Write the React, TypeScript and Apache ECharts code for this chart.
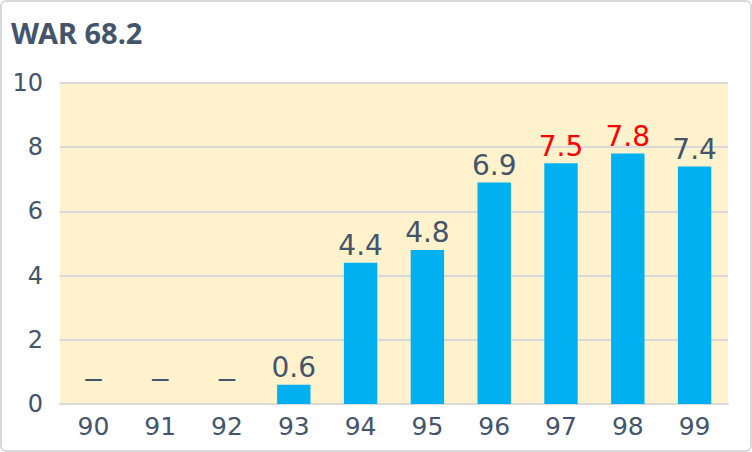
import React, { useEffect, useRef } from "react";
import * as echarts from "echarts";

const title = "WAR 68.2";
const categories = ["90", "91", "92", "93", "94", "95", "96", "97", "98", "99"];
const values = [0, 0, 0, 0.6, 4.4, 4.8, 6.9, 7.5, 7.8, 7.4];
const highlighted = ["97", "98"];
const yTicks = { min: 0, max: 10, interval: 2 };

const TEXT = "#44546A";
const TITLE_FONT = "'Noto Sans', 'Noto Sans CJK JP', sans-serif";
const FONT = "'DejaVu Sans', 'Noto Sans', sans-serif";

export default function App() {
  const ref = useRef<HTMLDivElement>(null);
  useEffect(() => {
    if (!ref.current) return;
    const chart = echarts.init(ref.current, undefined, { renderer: "svg" });
    chart.setOption({
      animation: false,
      title: {
        text: title,
        left: 4,
        top: 11,
        textStyle: { fontFamily: TITLE_FONT, fontSize: 29, fontWeight: "bold", color: TEXT },
      },
      grid: { left: 58, right: 22, top: 81, bottom: 46, containLabel: false,
        show: true, backgroundColor: "#FFF2CC", borderWidth: 0 },
      xAxis: {
        type: "category",
        data: categories,
        axisLine: { show: true, lineStyle: { color: "#D9D9D9", width: 2 } },
        axisTick: { show: false },
        axisLabel: { color: TEXT, fontSize: 25, fontFamily: FONT, margin: 10 },
      },
      yAxis: {
        type: "value",
        min: yTicks.min,
        max: yTicks.max,
        interval: yTicks.interval,
        axisLine: { show: false },
        axisTick: { show: false },
        splitLine: { lineStyle: { color: "#D9D9D9", width: 2 } },
        axisLabel: { color: TEXT, fontSize: 24, fontFamily: FONT, margin: 17 },
      },
      series: [
        {
          type: "bar",
          barWidth: "50%",
          data: categories.map((c, i) => ({
            value: values[i],
            label:
              values[i] === 0
                ? {
                    fontSize: 18,
                    fontWeight: "bold",
                    fontFamily: "'Noto Sans', sans-serif",
                    offset: [0, -14],
                    color: TEXT,
                  }
                : { color: highlighted.includes(c) ? "#FF0000" : TEXT },
          })),
          itemStyle: { color: "#00B0F0" },
          label: {
            show: true,
            position: "top",
            distance: 3,
            fontSize: 28,
            fontFamily: FONT,
            formatter: (p: any) => (p.value === 0 ? "—" : String(p.value)),
          },
        },
      ],
    });
    return () => chart.dispose();
  }, []);
  return (
    <div
      style={{
        position: "absolute",
        left: 0,
        top: 0,
        width: 752,
        height: 452,
        boxSizing: "border-box",
        border: "2px solid #D9D9D9",
        borderRadius: 6,
        background: "#fff",
      }}
    >
      <div ref={ref} style={{ width: 748, height: 448 }} />
    </div>
  );
}
